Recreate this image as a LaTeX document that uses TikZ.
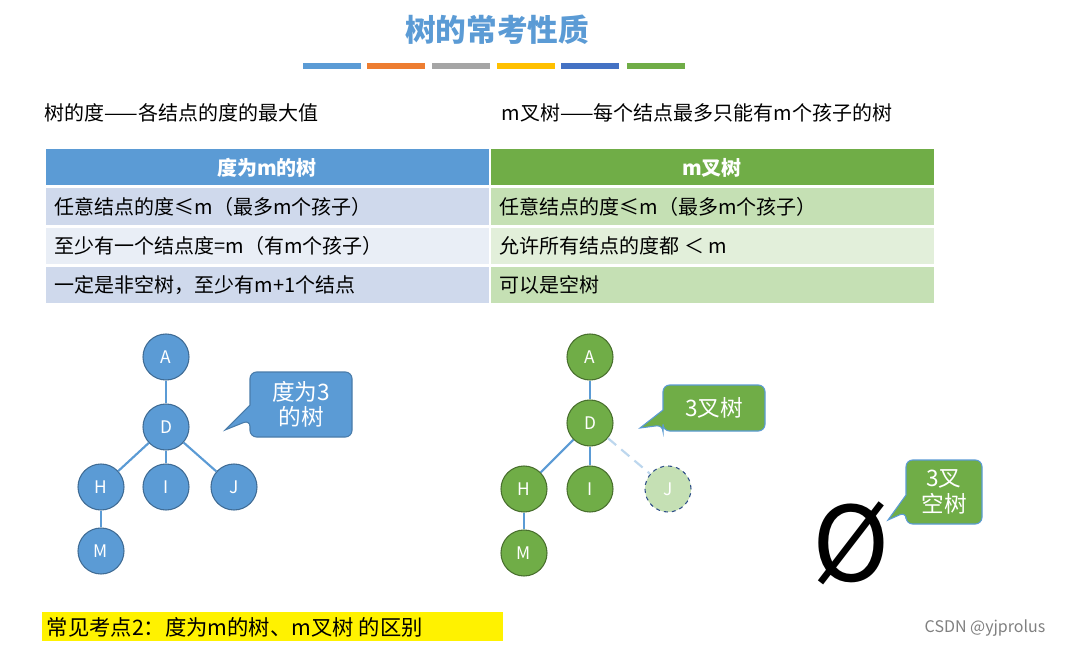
\documentclass[tikz,border=0pt]{standalone}
\usepackage{fontspec}
\setmainfont{Noto Sans CJK SC}
\newfontfamily\dejavu{DejaVu Sans}
\definecolor{cblue}{HTML}{5B9BD5}
\definecolor{cgreen}{HTML}{70AD47}
\definecolor{corange}{HTML}{ED7D31}
\definecolor{cgray}{HTML}{A5A5A5}
\definecolor{cgold}{HTML}{FFC000}
\definecolor{cdblue}{HTML}{4472C4}
\definecolor{bl1}{HTML}{CFD9EC}
\definecolor{bl2}{HTML}{E9EEF6}
\definecolor{gr1}{HTML}{C5E0B4}
\definecolor{gr2}{HTML}{E2EFDA}
\begin{document}
\begin{tikzpicture}[x=0.75pt,y=-0.75pt,
  bnode/.style={circle,fill=cblue,draw=cblue!70!black,line width=0.8pt,minimum size=34.5pt,inner sep=0pt,text=white,font=\fontsize{13}{13}\selectfont},
  gnode/.style={bnode,fill=cgreen,draw=cgreen!65!black},
  edge/.style={cblue,line width=1.6pt},
  cell/.style={anchor=west,font=\fontsize{15}{15}\selectfont},
  head/.style={font=\bfseries\fontsize{15}{15}\selectfont,text=white},
  bar/.style={line width=4pt},
  ctext/.style={text=white,font=\fontsize{17}{19}\selectfont,align=center}]
\useasboundingbox (0,0) rectangle (1070,648);
\fill[white] (0,0) rectangle (1070,648);
\node[text=cblue,font=\bfseries\fontsize{23}{23}\selectfont] (title) at (497,30) {树的常考性质};
\foreach \a/\c in {303/cblue,367/corange,432/cgray,497/cgold,561/cdblue,627/cgreen}
  \draw[bar,\c] (\a,66) -- ++(58,0);
\node[cell] (l1) at (40,113) {树的度——各结点的度的最大值};
\node[cell] (l2) at (497,113) {m叉树——每个结点最多只能有m个孩子的树};
% table
\fill[cblue] (46,149) rectangle (489,185);
\fill[cgreen] (491,149) rectangle (934,185);
\fill[bl1] (46,188) rectangle (489,225);
\fill[bl2] (46,228) rectangle (489,264);
\fill[bl1] (46,267) rectangle (489,303);
\fill[gr1] (491,188) rectangle (934,225);
\fill[gr2] (491,228) rectangle (934,264);
\fill[gr1] (491,267) rectangle (934,303);
\node[head] (h1) at (267,168) {度为m的树};
\node[head] (h2) at (712,168) {m叉树};
\node[cell] (c11) at (50,207) {任意结点的度≤m（最多m个孩子）};
\node[cell] (c21) at (50,246) {至少有一个结点度=m（有m个孩子）};
\node[cell] (c31) at (50,285) {一定是非空树，至少有m+1个结点};
\node[cell] (c12) at (495,207) {任意结点的度≤m（最多m个孩子）};
\node[cell] (c22) at (495,246) {允许所有结点的度都 ＜ m};
\node[cell] (c32) at (495,285) {可以是空树};
% left tree
\node[bnode] (A) at (166,357) {A};
\node[bnode] (D) at (166,427) {D};
\node[bnode] (H) at (101,487) {H};
\node[bnode] (I) at (166,487) {I};
\node[bnode] (J) at (234,487) {J};
\node[bnode] (M) at (101,551) {M};
\draw[edge] (A)--(D); \draw[edge] (D)--(H); \draw[edge] (D)--(I); \draw[edge] (D)--(J); \draw[edge] (H)--(M);
\draw[fill=cblue,draw=cblue!80!black,line width=0.8pt,rounded corners=5pt] (250,372) -- (352,372) -- (352,437) -- (250,437) -- (250,420)[sharp corners] -- (225,430) -- (250,405)[rounded corners=5pt] -- cycle;
\node[ctext] (cb1) at (301,404) {度为3\\的树};
% right tree
\node[gnode] (A2) at (590,357) {A};
\node[gnode] (D2) at (590,423) {D};
\node[gnode] (H2) at (524,489) {H};
\node[gnode] (I2) at (590,489) {I};
\node[bnode,fill=gr1,draw=cdblue!70!black,dashed] (J2) at (668,489) {J};
\node[gnode] (M2) at (524,553) {M};
\draw[edge] (A2)--(D2); \draw[edge] (D2)--(H2); \draw[edge] (D2)--(I2); \draw[edge] (H2)--(M2);
\draw[edge,cblue!40,dashed,dash pattern=on 8pt off 5pt] (D2)--(J2);
\draw[fill=cgreen,draw=cblue,line width=0.8pt,rounded corners=5pt] (663,385) -- (765,385) -- (765,431) -- (663,431) -- (663,425)[sharp corners] -- (640,428) -- (663,410)[rounded corners=5pt] -- cycle;
\node[ctext] (cb2) at (714,408) {3叉树};
\draw[fill=cgreen,draw=cblue,line width=0.8pt,rounded corners=5pt] (906,460) -- (982,460) -- (982,524) -- (906,524) -- (906,512)[sharp corners] -- (888,520) -- (906,495)[rounded corners=5pt] -- cycle;
\node[ctext] (cb3) at (944,492) {3叉\\空树};
\node[font=\fontsize{78}{78}\selectfont] (empty) at (851,543) {Ø};
% bottom
\fill[yellow] (42,612) rectangle (503,641);
\node[anchor=west,font=\fontsize{16}{16}\selectfont] (note) at (42,627) {常见考点2：度为m的树、m叉树 的区别};
\node[text=gray,font=\fontsize{12}{12}\selectfont] (csdn) at (985,628) {CSDN @yjprolus};
\end{tikzpicture}
\end{document}
